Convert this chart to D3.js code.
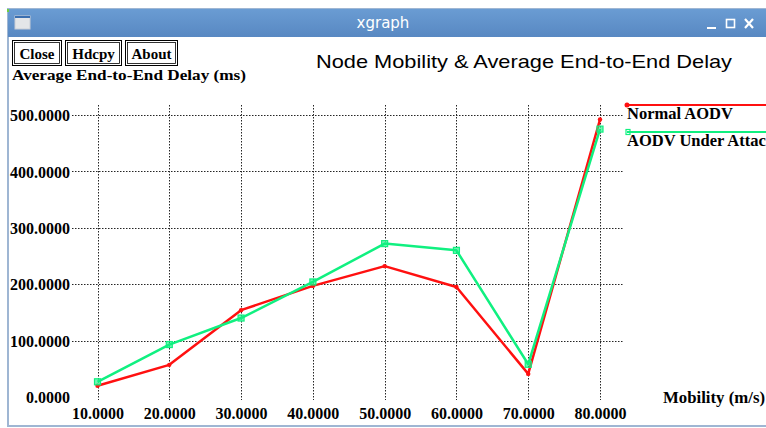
<!DOCTYPE html>
<html>
<head>
<meta charset="utf-8">
<script src="https://cdn.jsdelivr.net/npm/d3@7"></script>
<style>
  html, body { margin: 0; padding: 0; background: #fff; }
  svg { display: block; }
</style>
</head>
<body>
<svg id="win" width="766" height="428"></svg>
<script>
// Mobility (m/s) on the x axis, average end-to-end delay (ms) on the y axis
const mobility = [10, 20, 30, 40, 50, 60, 70, 80];
const normalAodv = [20, 57, 154, 197, 232, 195, 41, 492];
const aodvUnderAttack = [27, 93, 140, 204, 272, 260, 58, 475];
const xTicks = [10, 20, 30, 40, 50, 60, 70, 80];
const yTicks = [0, 100, 200, 300, 400, 500];
const seriesNames = ["Normal AODV", "AODV Under Attac"];
const seriesColors = ["#ff1010", "#10f080"];

const svg = d3.select("#win");
const serif = "'Liberation Serif', 'DejaVu Serif', serif";
const sans = "'Liberation Sans', Arial, sans-serif";

// ---- window frame ----
const defs = svg.append("defs");
const grad = defs.append("linearGradient").attr("id", "titlebar")
  .attr("x1", 0).attr("x2", 0).attr("y1", 0).attr("y2", 1);
grad.append("stop").attr("offset", "0%").attr("stop-color", "#6a9cd3");
grad.append("stop").attr("offset", "100%").attr("stop-color", "#5888c2");

svg.append("rect").attr("x", 8).attr("y", 9).attr("width", 770).attr("height", 417)
  .attr("fill", "#fff").attr("stroke", "#9fb6d3").attr("stroke-width", 2);
svg.append("rect").attr("x", 8).attr("y", 9).attr("width", 760).attr("height", 28)
  .attr("fill", "url(#titlebar)");
svg.append("rect").attr("x", 7).attr("y", 9).attr("width", 2).attr("height", 3).attr("fill", "#6fcf3f");

// window icon
svg.append("rect").attr("x", 15).attr("y", 16).attr("width", 15).attr("height", 13)
  .attr("fill", "#e4e6e8").attr("stroke", "#c9ced6");
svg.append("rect").attr("x", 15).attr("y", 16).attr("width", 15).attr("height", 2).attr("fill", "#3b6fb0");

svg.append("text").attr("x", 383).attr("y", 28).attr("text-anchor", "middle")
  .attr("font-family", "'DejaVu Sans', sans-serif").attr("font-size", 15)
  .attr("fill", "#fff").text("xgraph");

// minimise / maximise / close controls
svg.append("rect").attr("x", 707).attr("y", 27).attr("width", 9).attr("height", 2).attr("fill", "#fff");
svg.append("rect").attr("x", 726.5).attr("y", 19.5).attr("width", 8).attr("height", 8)
  .attr("fill", "none").attr("stroke", "#fff").attr("stroke-width", 1.6);
svg.append("path").attr("d", "M745,19 L753,28 M753,19 L745,28")
  .attr("stroke", "#fff").attr("stroke-width", 2.2);

// ---- buttons ----
const buttons = [
  { label: "Close", x: 12, w: 49 },
  { label: "Hdcpy", x: 65, w: 56 },
  { label: "About", x: 125, w: 52 }
];
const btn = svg.append("g").selectAll("g").data(buttons).join("g");
btn.append("rect").attr("x", d => d.x + 0.5).attr("y", 40.5).attr("width", d => d.w).attr("height", 25)
  .attr("fill", "#fff").attr("stroke", "#000").attr("stroke-width", 1);
btn.append("rect").attr("x", d => d.x + 2.5).attr("y", 42.5).attr("width", d => d.w - 4).attr("height", 21)
  .attr("fill", "none").attr("stroke", "#000").attr("stroke-width", 0.8);
btn.append("text").attr("x", d => d.x + d.w / 2 + 0.5).attr("y", 59).attr("text-anchor", "middle")
  .attr("font-family", serif).attr("font-weight", "bold").attr("font-size", 15)
  .text(d => d.label);

// ---- titles ----
svg.append("text").attr("x", 316).attr("y", 68)
  .attr("font-family", sans).attr("font-size", 19)
  .attr("textLength", 416).attr("lengthAdjust", "spacingAndGlyphs")
  .text("Node Mobility & Average End-to-End Delay");

svg.append("text").attr("x", 12).attr("y", 80)
  .attr("font-family", serif).attr("font-weight", "bold").attr("font-size", 14)
  .attr("textLength", 234).attr("lengthAdjust", "spacingAndGlyphs")
  .text("Average End-to-End Delay (ms)");

svg.append("text").attr("x", 663).attr("y", 403)
  .attr("font-family", serif).attr("font-weight", "bold").attr("font-size", 16)
  .attr("textLength", 102).attr("lengthAdjust", "spacingAndGlyphs")
  .text("Mobility (m/s)");

// ---- scales ----
const x = d3.scaleLinear().domain([10, 80]).range([97.5, 600]);
const y = d3.scaleLinear().domain([0, 500]).range([397, 115]);

// ---- grid ----
const grid = svg.append("g").attr("stroke", "#000").attr("stroke-width", 1)
  .attr("stroke-dasharray", "1.5,1.5").attr("opacity", 0.85);
grid.selectAll("line.h").data(yTicks.filter(d => d > 0)).join("line").attr("class", "h")
  .attr("x1", 72).attr("x2", 624)
  .attr("y1", d => Math.round(y(d)) + 0.5).attr("y2", d => Math.round(y(d)) + 0.5);
grid.selectAll("line.v").data(xTicks).join("line").attr("class", "v")
  .attr("x1", d => Math.round(x(d)) + 0.5).attr("x2", d => Math.round(x(d)) + 0.5)
  .attr("y1", 105).attr("y2", 400);

// ---- axes (labels only, as in xgraph) ----
const yAxis = svg.append("g").attr("transform", "translate(70,0)")
  .call(d3.axisLeft(y).tickValues(yTicks).tickSize(0).tickPadding(0).tickFormat(d3.format(".4f")));
yAxis.select(".domain").remove();
yAxis.selectAll("text").attr("font-family", serif).attr("font-weight", "bold")
  .attr("font-size", 16).attr("fill", "#000").attr("dy", "0.35em");

const xAxis = svg.append("g").attr("transform", "translate(0,408)")
  .call(d3.axisBottom(x).tickValues(xTicks).tickSize(0).tickPadding(0).tickFormat(d3.format(".4f")));
xAxis.select(".domain").remove();
xAxis.selectAll("text").attr("font-family", serif).attr("font-weight", "bold")
  .attr("font-size", 16).attr("fill", "#000").attr("dy", "0.71em");

// ---- series ----
const seriesData = [normalAodv, aodvUnderAttack];
const line = d3.line().x((d, i) => x(mobility[i])).y(d => y(d));
seriesData.forEach((vals, s) => {
  svg.append("path").datum(vals).attr("d", line)
    .attr("fill", "none").attr("stroke", seriesColors[s]).attr("stroke-width", 2.5)
    .attr("stroke-linejoin", "round");
});
// markers: small dots for the first series, small squares for the second
svg.append("g").selectAll("circle").data(normalAodv).join("circle")
  .attr("cx", (d, i) => x(mobility[i])).attr("cy", d => y(d)).attr("r", 2.2)
  .attr("fill", seriesColors[0]);
svg.append("g").selectAll("rect").data(aodvUnderAttack).join("rect")
  .attr("x", (d, i) => x(mobility[i]) - 3).attr("y", d => y(d) - 3)
  .attr("width", 6).attr("height", 6)
  .attr("fill", seriesColors[1]).attr("fill-opacity", 0.6)
  .attr("stroke", seriesColors[1]).attr("stroke-width", 1.2);

// ---- legend ----
const legendY = [105, 132];
seriesNames.forEach((name, s) => {
  svg.append("line").attr("x1", 627).attr("x2", 770)
    .attr("y1", legendY[s]).attr("y2", legendY[s])
    .attr("stroke", seriesColors[s]).attr("stroke-width", 2);
  svg.append("text").attr("x", 627).attr("y", legendY[s] + 14)
    .attr("font-family", serif).attr("font-weight", "bold").attr("font-size", 16.5)
    .text(name);
});
svg.append("circle").attr("cx", 627).attr("cy", 105).attr("r", 2.5).attr("fill", seriesColors[0]);
svg.append("rect").attr("x", 626).attr("y", 129.5).attr("width", 4).attr("height", 5)
  .attr("fill", "none").attr("stroke", seriesColors[1]).attr("stroke-width", 1.2);
</script>
</body>
</html>
